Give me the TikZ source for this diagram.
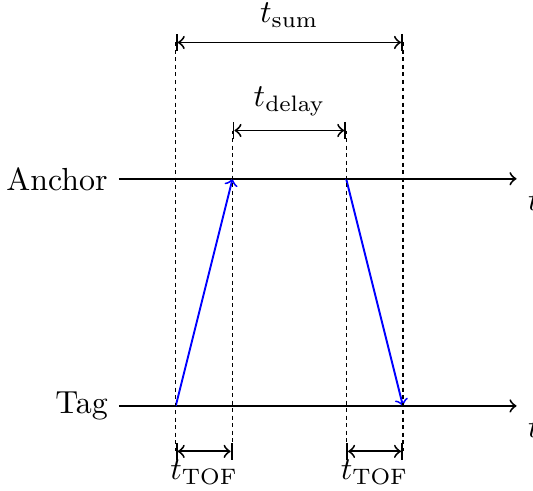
\documentclass[tikz,border=0pt]{standalone}
\usepackage{amsmath}
\usetikzlibrary{arrows.meta,positioning}

\begin{document}
\begin{tikzpicture}[x=0.625cm,y=0.625cm,>=to,
  axis/.style={->,semithick},
  signal/.style={->,blue,semithick},
  guide/.style={dashed,dash pattern=on 1.25pt off 1.1pt,line width=0.35pt},
  span/.style={|<->|,semithick},
]
\useasboundingbox (-2.095,-1.496) rectangle (7.29,7.148);

% time lines
\coordinate (tagS) at (0,0);
\coordinate (tagE) at (7,0);
\coordinate (ancS) at (0,4);
\coordinate (ancE) at (7,4);
\draw[axis] (tagS) -- (tagE) node[below right] {$t$};
\draw[axis] (ancS) -- (ancE) node[below right] {$t$};
\node[left] (tag) at (tagS) {Tag};
\node[left] (anchor) at (ancS) {Anchor};

% events
\coordinate (poll) at (1,0);
\coordinate (rxpoll) at (2,4);
\coordinate (resp) at (4,4);
\coordinate (rxresp) at (5,0);
\draw[signal] (poll) -- (rxpoll);
\draw[signal] (resp) -- (rxresp);

% dimension marks
\coordinate (sumL) at (1,6.4);
\coordinate (sumR) at (5,6.4);
\coordinate (delL) at (2,4.85);
\coordinate (delR) at (4,4.85);
\coordinate (tofA) at (1,-0.8);
\coordinate (tofB) at (2,-0.8);
\coordinate (tofC) at (4,-0.8);
\coordinate (tofD) at (5,-0.8);

\draw[guide] (sumL) -- (tofA);
\draw[guide] (sumR) -- (tofD);
\draw[guide] (delL) -- (tofB);
\draw[guide] (delR) -- (tofC);

\draw[span] (sumL) -- node[above=1pt] (tsum) {$t_{\text{sum}}$} (sumR);
\draw[span] (delL) -- node[above=1pt] (tdelay) {$t_{\text{delay}}$} (delR);
\draw[span] (tofA) -- node[below=-1pt] (tofone) {$t_{\text{TOF}}$} (tofB);
\draw[span] (tofC) -- node[below=-1pt] (toftwo) {$t_{\text{TOF}}$} (tofD);
\end{tikzpicture}
\end{document}
